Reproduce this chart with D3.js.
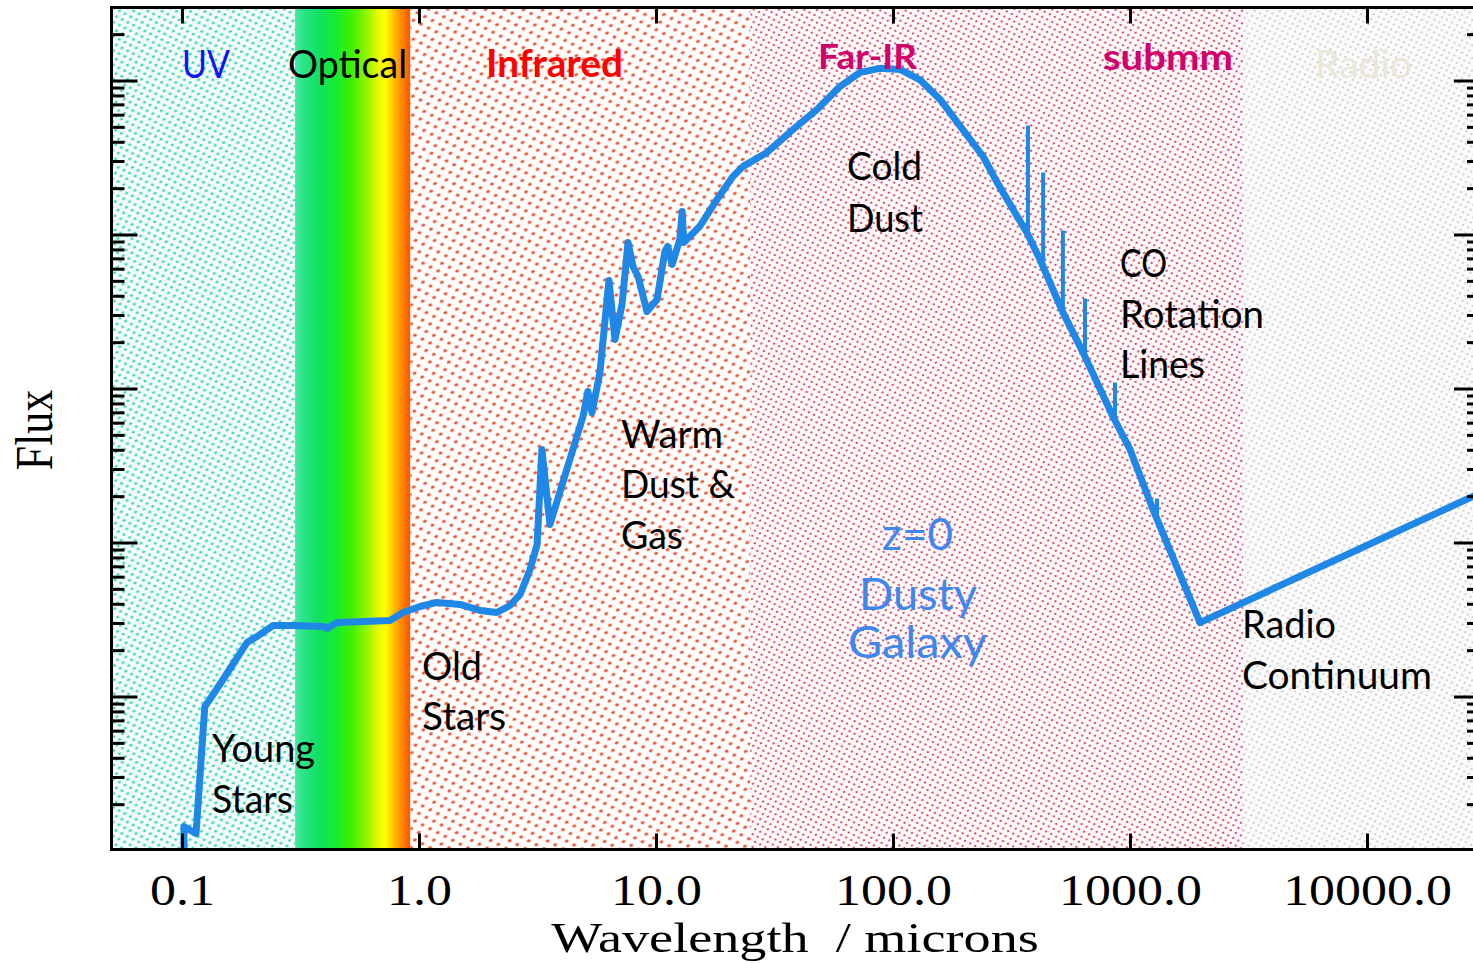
<!DOCTYPE html>
<html>
<head>
<meta charset="utf-8">
<script src="https://cdn.jsdelivr.net/npm/d3@7"></script>
<style>
  html, body { margin: 0; padding: 0; background: #ffffff; }
  svg { display: block; }
</style>
</head>
<body>
<svg id="chart" width="1473" height="963"></svg>
<script>
// Spectral energy distribution of a dusty galaxy at z = 0 (arbitrary flux units)
const wavelength = [
  0.1019, 0.1019, 0.1146, 0.1248, 0.131, 0.149, 0.188, 0.207, 0.242, 0.294,
  0.394, 0.409, 0.451, 0.755, 0.856, 1.01, 1.19, 1.49, 1.81, 2.13,
  2.42, 2.67, 2.94, 3.15, 3.30, 3.57, 4.92, 5.16, 5.37, 5.80,
  6.33, 6.71, 7.19, 7.62, 8.00, 8.40, 9.16, 10.1, 10.9, 11.2,
  11.7, 12.6, 12.9, 13.1, 15.3, 18.1, 21.1, 23.3, 29.4, 37.8,
  47.8, 59.7, 72.6, 88.1, 107, 130, 158, 197, 240, 275,
  367, 417, 521, 634, 847, 1000, 1250, 1974, 33000
];
const flux = [
  0.98, 1.43, 1.29, 8.61, 9.56, 12.9, 22.4, 24.5, 28.9, 28.9,
  28.5, 27.7, 30.2, 31.2, 35.1, 38.4, 40.8, 39.6, 36.2, 35.1,
  39.0, 46.0, 66.8, 97.0, 402, 131, 658, 957, 698, 1270,
  5030, 2080, 3510, 8870, 6200, 5340, 3160, 3785, 7760, 8360,
  6390, 9280, 14100, 8870, 11300, 16900, 23800, 27700, 34100, 48000,
  64800, 91400, 113000, 120000, 118000, 101000, 75300, 48000, 32100, 21800,
  10300, 6880, 3120, 1710, 658, 402, 164, 30.2, 224
];

// CO rotational emission lines sitting on the cold-dust continuum
const coWavelength = [371, 430, 521, 646, 864, 1300];
const coPeak       = [51000, 25300, 10600, 3840, 1094, 193];
const coBase       = [10000, 6390, 3120, 1614, 629, 148];

// Axis ticks
const xTickValues = [0.1, 1, 10, 100, 1000, 10000];
const xTickLabels = ["0.1", "1.0", "10.0", "100.0", "1000.0", "10000.0"];
const yDecades = [1, 10, 100, 1000, 10000, 100000];
const yMinorSteps = [2, 3, 4, 5, 6, 7, 8, 9];

// Spectral bands (boundaries in microns)
const bandEdges = [0.3, 0.92, 25, 3000];
const bandNames = ["UV", "Optical", "Infrared", "Far-IR", "submm", "Radio"];

// Text labels
const featureLabels = [
  ["Young", "Stars"],
  ["Old", "Stars"],
  ["Warm", "Dust &", "Gas"],
  ["Cold", "Dust"],
  ["CO", "Rotation", "Lines"],
  ["Radio", "Continuum"]
];
const galaxyLabel = ["z=0", "Dusty", "Galaxy"];
const xTitle = "Wavelength  / microns";
const yTitle = "Flux";

// ---------------- layout ----------------
const W = 1473, H = 963;
const plotL = 111.5, plotT = 7.5, plotR = 1480, plotB = 849.5;

const x = d3.scaleLog().domain([0.1, 10000]).range([182, 1367]);
const y = d3.scaleLog().domain([1, 1e5]).range([850.5, 80.5]);
const xMin = x.invert(plotL), xMax = x.invert(plotR);

const svg = d3.select("#chart");
const defs = svg.append("defs");

defs.append("clipPath").attr("id", "plotClip")
  .append("rect")
  .attr("x", plotL).attr("y", plotT)
  .attr("width", plotR - plotL).attr("height", plotB - plotT);

// dotted textures for the bands
function dotPattern(id, size, r, bg, dot) {
  const p = defs.append("pattern")
    .attr("id", id)
    .attr("patternUnits", "userSpaceOnUse")
    .attr("width", size).attr("height", size)
    .attr("patternTransform", "rotate(-18)");
  p.append("rect").attr("width", size).attr("height", size).attr("fill", bg);
  p.append("ellipse").attr("cx", size * 0.25).attr("cy", size * 0.25)
    .attr("rx", r * 1.25).attr("ry", r).attr("fill", dot);
  p.append("ellipse").attr("cx", size * 0.75).attr("cy", size * 0.75)
    .attr("rx", r * 1.25).attr("ry", r).attr("fill", dot);
}
dotPattern("uvDots", 9, 1.3, "#f4fcfa", "#3ad6b4");
dotPattern("irDots", 12, 1.6, "#fffdfc", "#e5573a");
dotPattern("firDots", 8, 1.0, "#fff9fa", "#cc3a60");
dotPattern("radioDots", 8, 1.05, "#fbfbfb", "#cbcbcb");

const optGrad = defs.append("linearGradient")
  .attr("id", "opticalGrad")
  .attr("x1", "0%").attr("x2", "100%").attr("y1", "0%").attr("y2", "0%");
[
  [0, "#4ae8a8"], [0.06, "#2ee48a"], [0.2, "#12e062"], [0.35, "#14ec32"],
  [0.5, "#44f000"], [0.62, "#94f400"], [0.72, "#e8f800"], [0.78, "#ffff00"],
  [0.85, "#ffc400"], [0.92, "#ff8a00"], [1, "#ff5200"]
].forEach(([o, c]) => optGrad.append("stop").attr("offset", o).attr("stop-color", c));

// ---------------- band backgrounds ----------------
const bandBounds = [xMin, ...bandEdges, xMax];
const bandFills = ["url(#uvDots)", "url(#opticalGrad)", "url(#irDots)", "url(#firDots)", "url(#radioDots)"];
const bg = svg.append("g").attr("clip-path", "url(#plotClip)");
bg.selectAll("rect.band")
  .data(d3.range(bandFills.length))
  .join("rect")
  .attr("class", "band")
  .attr("x", i => x(bandBounds[i]))
  .attr("y", plotT)
  .attr("width", i => x(bandBounds[i + 1]) - x(bandBounds[i]))
  .attr("height", plotB - plotT)
  .attr("fill", i => bandFills[i]);

// ---------------- spectrum ----------------
const plot = svg.append("g").attr("clip-path", "url(#plotClip)");
const sed = wavelength.map((w, i) => ({ w, f: flux[i] }));
const line = d3.line().x(d => x(d.w)).y(d => y(d.f));

plot.selectAll("line.co")
  .data(coWavelength.map((w, i) => ({ w, top: coPeak[i], base: coBase[i] })))
  .join("line")
  .attr("class", "co")
  .attr("x1", d => x(d.w)).attr("x2", d => x(d.w))
  .attr("y1", d => y(d.base)).attr("y2", d => y(d.top))
  .attr("stroke", "#1f87e6").attr("stroke-width", 4);

plot.append("path")
  .datum(sed)
  .attr("d", line)
  .attr("fill", "none")
  .attr("stroke", "#1f87e6")
  .attr("stroke-width", 7)
  .attr("stroke-linejoin", "round")
  .attr("stroke-linecap", "butt");

// ---------------- text annotations ----------------
const sans = "Lato, 'Open Sans', sans-serif";
function label(txt, x0, base, width, size, weight, color) {
  svg.append("text")
    .attr("x", x0).attr("y", base)
    .attr("textLength", width)
    .attr("lengthAdjust", "spacingAndGlyphs")
    .style("font-family", sans)
    .style("font-size", size + "px")
    .style("font-weight", weight)
    .style("white-space", "pre")
    .attr("fill", color)
    .text(txt);
}
// band names
const bandStyle = [
  [182, 78, 48, 39, 400, "#1212f2"],
  [288, 78, 119, 39, 400, "#000000"],
  [486, 77, 137, 38, 700, "#ff0000"],
  [818, 69, 99, 35, 700, "#d0006c"],
  [1103, 70, 130, 36, 700, "#d0006c"],
  [1315, 78, 97, 39, 400, "#ebe7d9"]
];
bandNames.forEach((n, i) => label(n, ...bandStyle[i]));

// physical components
const featureStyle = [
  { x: 212, base: [762, 813], w: [103, 81] },
  { x: 422, base: [680, 730], w: [60, 84] },
  { x: 621, base: [448, 498, 549], w: [102, 114, 62] },
  { x: 847, base: [180, 232], w: [75, 76] },
  { x: 1120, base: [277, 328, 378], w: [47, 144, 85] },
  { x: 1242, base: [638, 689], w: [94, 190] }
];
featureLabels.forEach((lines, i) => {
  const s = featureStyle[i];
  lines.forEach((t, j) => label(t, s.x, s.base[j], s.w[j], 38, 400, "#000000"));
});

// galaxy tag
const galaxyStyle = [[882, 550, 71], [859, 610, 118], [848, 658, 139]];
galaxyLabel.forEach((t, j) => label(t, galaxyStyle[j][0], galaxyStyle[j][1], galaxyStyle[j][2], 44, 400, "#3f86ee"));

// ---------------- axes ----------------
const serif = "'Liberation Serif', 'Times New Roman', serif";
const axes = svg.append("g");

const minorVals = [];
yDecades.forEach(d => yMinorSteps.forEach(s => {
  const v = d * s;
  if (y(v) >= plotT && y(v) <= plotB) minorVals.push(v);
}));
const majorVals = yDecades.filter(v => y(v) >= plotT && y(v) <= plotB);

function styleAxis(g) {
  g.select(".domain").remove();
  g.selectAll(".tick line").attr("stroke", "#000").attr("stroke-width", 3);
}

// left: ticks pointing into the plot
axes.append("g").attr("transform", `translate(${plotL},0)`)
  .call(d3.axisRight(y).tickValues(majorVals).tickSize(26).tickFormat(""))
  .call(styleAxis);
axes.append("g").attr("transform", `translate(${plotL},0)`)
  .call(d3.axisRight(y).tickValues(minorVals).tickSize(13).tickFormat(""))
  .call(styleAxis);
// right
axes.append("g").attr("transform", `translate(${plotR},0)`)
  .call(d3.axisLeft(y).tickValues(majorVals).tickSize(26).tickFormat(""))
  .call(styleAxis);
axes.append("g").attr("transform", `translate(${plotR},0)`)
  .call(d3.axisLeft(y).tickValues(minorVals).tickSize(13).tickFormat(""))
  .call(styleAxis);
// top
axes.append("g").attr("transform", `translate(0,${plotT})`)
  .call(d3.axisBottom(x).tickValues(xTickValues).tickSize(16).tickFormat(""))
  .call(styleAxis);
// bottom with labels
const xAxis = axes.append("g").attr("transform", `translate(0,${plotB})`)
  .call(d3.axisBottom(x).tickValues(xTickValues).tickSizeInner(-16).tickSizeOuter(0)
    .tickPadding(0).tickFormat((d, i) => xTickLabels[i]))
  .call(styleAxis);
xAxis.selectAll(".tick text")
  .attr("y", 56).attr("dy", null)
  .attr("fill", "#000")
  .attr("transform", "scale(1.18,1)")
  .style("font-family", serif)
  .style("font-size", "44px");

// frame
axes.append("rect")
  .attr("x", plotL).attr("y", plotT)
  .attr("width", plotR - plotL).attr("height", plotB - plotT)
  .attr("fill", "none").attr("stroke", "#000").attr("stroke-width", 3);

// titles
svg.append("text")
  .attr("transform", `translate(795,952) scale(1.26,1)`)
  .attr("text-anchor", "middle")
  .style("font-family", serif).style("font-size", "43px")
  .style("white-space", "pre")
  .attr("fill", "#000")
  .text(xTitle);

svg.append("text")
  .attr("transform", `translate(52,430) rotate(-90) scale(1,1.18)`)
  .attr("text-anchor", "middle")
  .style("font-family", serif).style("font-size", "44px")
  .attr("fill", "#000")
  .text(yTitle);
</script>
</body>
</html>
